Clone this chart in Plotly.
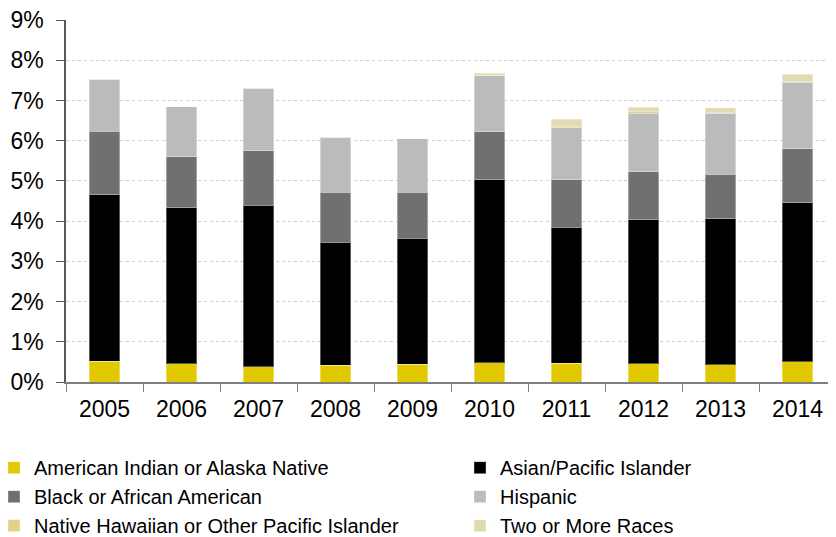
import plotly.graph_objects as go

years = ["2005", "2006", "2007", "2008", "2009", "2010", "2011", "2012", "2013", "2014"]

american_indian = [0.51, 0.46, 0.38, 0.42, 0.44, 0.48, 0.47, 0.46, 0.43, 0.50]
asian_pacific = [4.15, 3.87, 4.02, 3.06, 3.14, 4.55, 3.38, 3.57, 3.63, 3.96]
black = [1.58, 1.27, 1.35, 1.24, 1.14, 1.19, 1.18, 1.20, 1.11, 1.34]
hispanic = [1.29, 1.24, 1.55, 1.36, 1.33, 1.39, 1.29, 1.45, 1.51, 1.65]
native_hawaiian = [0, 0, 0, 0, 0, 0.02, 0.02, 0.04, 0.02, 0.02]
two_or_more = [0, 0, 0, 0, 0, 0.05, 0.19, 0.11, 0.12, 0.18]

series = [
    ("American Indian or Alaska Native", american_indian, "#E2C800", "legend"),
    ("Asian/Pacific Islander", asian_pacific, "#000000", "legend2"),
    ("Black or African American", black, "#707070", "legend"),
    ("Hispanic", hispanic, "#BBBBBB", "legend2"),
    ("Native Hawaiian or Other Pacific Islander", native_hawaiian, "#E3D18A", "legend"),
    ("Two or More Races", two_or_more, "#E1DBB2", "legend2"),
]

y_ticks = list(range(0, 10))
y_tick_labels = [f"{v}%" for v in y_ticks]

fig = go.Figure()
for name, vals, color, lg in series:
    fig.add_trace(go.Bar(
        x=years, y=vals, name=name, legend=lg,
        marker=dict(color=color, line=dict(color="rgba(255,255,255,0.35)", width=1)),
    ))

legend_common = dict(
    orientation="v",
    xref="paper", yref="container",
    yanchor="top", xanchor="left",
    font=dict(size=20, color="#000000"),
    itemclick=False, itemdoubleclick=False,
    traceorder="normal", bgcolor="rgba(0,0,0,0)",
)

# page body has an 8px default margin, so the figure is sized 828x529
fig.update_layout(
    barmode="stack",
    bargap=0.6,
    width=828, height=529,
    margin=dict(l=58, r=0, t=12, b=155, autoexpand=False),
    paper_bgcolor="white", plot_bgcolor="white",
    font=dict(family="Liberation Sans, Arial, sans-serif", color="#000000"),
    showlegend=True,
    legend=dict(x=-0.0935, y=0.168, **legend_common),
    legend2=dict(x=0.5117, y=0.168, **legend_common),
)
fig.update_xaxes(
    type="category", range=[-0.5, 9.5], automargin=False,
    showline=True, linecolor="#7f7f7f", linewidth=1.5,
    ticks="outside", tickson="boundaries", ticklen=8, tickcolor="#7f7f7f",
    tickfont=dict(size=23), ticklabelstandoff=6, showgrid=False,
)
fig.update_yaxes(
    range=[0, 9], tickvals=y_ticks, ticktext=y_tick_labels, automargin=False,
    showline=True, linecolor="#595959", linewidth=1.5,
    ticks="outside", ticklen=8, tickcolor="#595959",
    tickfont=dict(size=23), ticklabelstandoff=8, ticklabeloverflow="allow",
    showgrid=True, gridcolor="#d0d0d0", griddash="dot", gridwidth=1,
    zeroline=False,
)

fig.write_html("out.html")
